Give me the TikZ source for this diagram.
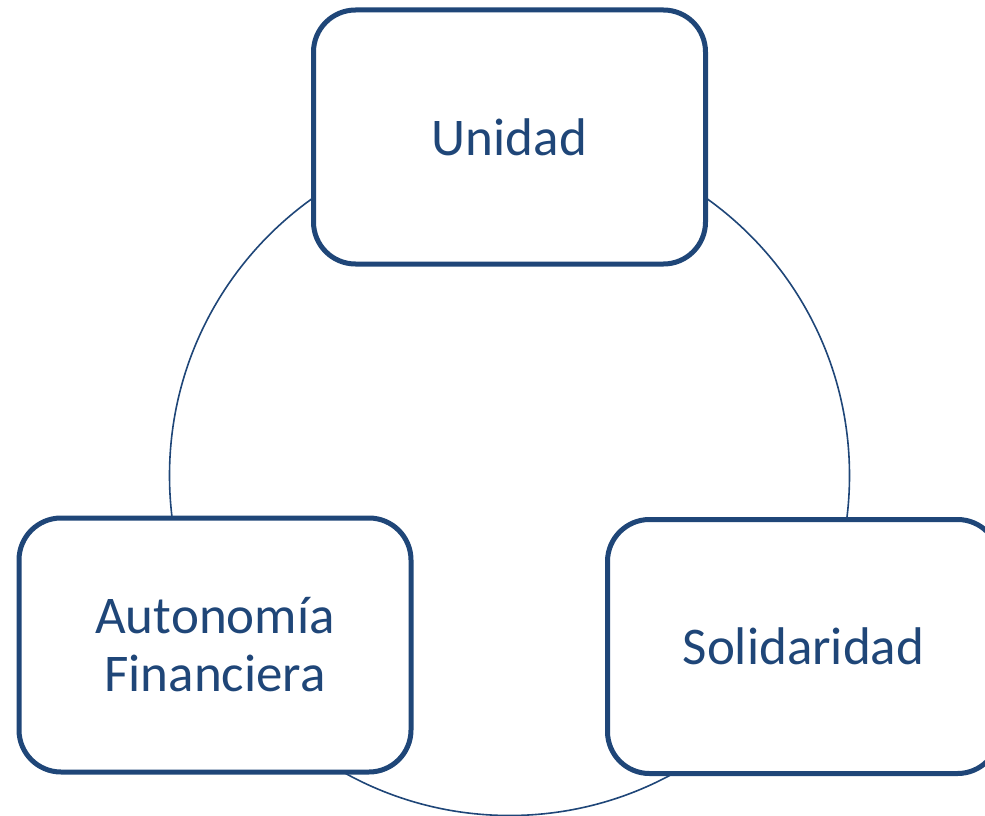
\documentclass[tikz,border=0pt]{standalone}
\usepackage{fontspec}
\setmainfont{Carlito}
\definecolor{dblue}{RGB}{31,70,120}
\begin{document}
\begin{tikzpicture}[x=1pt,y=-1pt,
  boxst/.style={draw=dblue, line width=5pt, fill=white, rounded corners=42pt,
    minimum width=392pt, minimum height=254pt, inner sep=0pt,
    text=dblue, font=\fontsize{53}{58}\selectfont, align=center}]
\useasboundingbox (0,0) rectangle (985,816);
\begin{scope}
\clip (0,0) rectangle (985,816);
\node[draw=dblue, line width=1.6pt, circle, minimum size=680pt, inner sep=0pt] (ring) at (509.5,475.5) {};
\node[boxst] (uni) at (509.5,137) {Unidad};
\node[boxst] (aut) at (215,645) {Autonomía\\Financiera};
\node[boxst] (sol) at (803.5,646.5) {Solidaridad};
\end{scope}
\end{tikzpicture}
\end{document}
